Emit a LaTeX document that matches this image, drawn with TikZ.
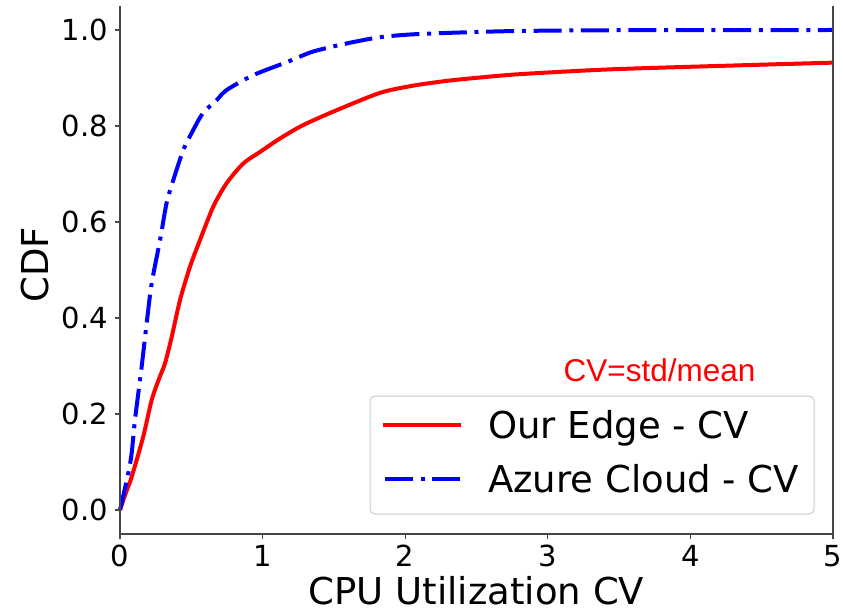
\documentclass[tikz,border=0pt]{standalone}
\usepackage{fontspec}
\setmainfont{DejaVu Sans}
\newfontfamily\arialfont{Liberation Sans}

\definecolor{spinegray}{RGB}{70,70,70}
\definecolor{legendedge}{RGB}{204,204,204}

\begin{document}
\begin{tikzpicture}[x=1pt,y=-1pt,
  spineline/.style={draw=spinegray, line width=1.3pt},
  tickline/.style={draw=spinegray, line width=1.3pt},
  ticklabel/.style={font=\fontsize{29}{29}\selectfont, inner sep=0pt},
  axlabel/.style={font=\fontsize{37}{37}\selectfont, inner sep=0pt},
  edgecurve/.style={draw=red, line width=4pt, line join=round},
  cloudcurve/.style={draw=blue, line width=4pt, line join=round,
    dash pattern=on 28pt off 7.7pt on 4pt off 7.7pt},
  legtext/.style={font=\fontsize{37}{37}\selectfont, inner sep=0pt, anchor=base west},
  notetext/.style={font=\arialfont\fontsize{31.5}{31.5}\selectfont, text=red, inner sep=0pt, anchor=base west},
]
\useasboundingbox (0,0) rectangle (843,612);

% data curves (data coordinates: x in [0,5], y in [-0.05,1.05])
\begin{scope}[shift={(120,510)}, x=142.6pt, y=480pt]
  \draw[edgecurve] plot[smooth, tension=0.45] coordinates {
    (0,0) (0.04,0.035) (0.082,0.069) (0.163,0.153) (0.222,0.229)
    (0.272,0.272) (0.316,0.306) (0.363,0.361) (0.421,0.4375) (0.491,0.507)
    (0.561,0.5625) (0.654,0.632) (0.748,0.681) (0.865,0.722) (0.982,0.746)
    (1.122,0.774) (1.285,0.802) (1.520,0.833) (1.823,0.869) (2.055,0.884)
    (2.291,0.894) (2.525,0.901) (2.805,0.908) (3.436,0.918) (4.299,0.926)
    (5.0,0.932)};
  \draw[cloudcurve] plot[smooth, tension=0.45] coordinates {
    (0,0) (0.058,0.076) (0.082,0.119) (0.105,0.1875) (0.152,0.299)
    (0.187,0.389) (0.222,0.472) (0.281,0.5625) (0.327,0.640) (0.374,0.6875)
    (0.444,0.750) (0.514,0.792) (0.582,0.827) (0.678,0.854) (0.748,0.875)
    (0.935,0.906) (1.169,0.933) (1.353,0.955) (1.590,0.972) (1.823,0.985)
    (2.055,0.991) (2.405,0.995) (2.805,0.998) (3.5,0.9995) (5.0,1.0)};
\end{scope}

% spines (top spine hidden)
\draw[spineline] (120,6) -- (120,534) -- (833,534) -- (833,6);

% y ticks and labels
\foreach \k/\lab in {0/0.0,1/0.2,2/0.4,3/0.6,4/0.8,5/1.0} {
  \draw[tickline] (115,{510-96*\k}) -- (120,{510-96*\k});
  \node[ticklabel, anchor=east] (ytick\k) at (108,{510-96*\k}) {\lab};
}

% x ticks and labels
\foreach \k in {0,...,5} {
  \draw[tickline] ({120+142.6*\k},534) -- ({120+142.6*\k},539);
  \node[ticklabel, anchor=base] (xtick\k) at ({120+142.6*\k},566.5) {\k};
}

% axis labels
\node[axlabel, anchor=base] (xlabel) at (476.5,604) {CPU Utilization CV};
\node[axlabel, anchor=base, rotate=90] (ylabel) at (48.3,265) {CDF};

% annotation
\node[notetext] (note) at (563.5,381.7) {CV=std/mean};

% legend
\draw[draw=legendedge, line width=1pt, fill=white, rounded corners=5pt]
  (370,396) rectangle (814,514);
\draw[edgecurve] (383,425) -- (461,425);
\draw[cloudcurve] (385,479) -- (461,479);
\node[legtext] (legedge) at (488,438) {Our Edge - CV};
\node[legtext] (legcloud) at (488,492.7) {Azure Cloud - CV};
\end{tikzpicture}
\end{document}
